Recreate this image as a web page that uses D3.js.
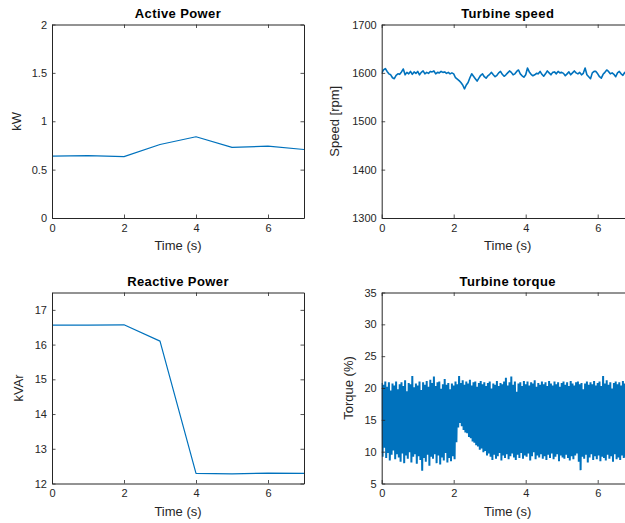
<!DOCTYPE html>
<html>
<head>
<meta charset="utf-8">
<script src="https://cdn.jsdelivr.net/npm/d3@7"></script>
<style>
  html, body { margin: 0; padding: 0; background: #fff; }
  svg { display: block; font-family: "Liberation Sans", Arial, Helvetica, sans-serif; }
  .tick text { fill: #262626; font-size: 11px; }
  .domain, .tick line { stroke: #262626; }
</style>
</head>
<body>
<svg id="fig" width="625" height="523"></svg>
<script>
// ---- data -------------------------------------------------------------
const timeTicks = [0, 2, 4, 6];

// Active power, one sample per second
const activeTime  = [0, 1, 2, 3, 4, 5, 6, 7];
const activePower = [0.640, 0.645, 0.634, 0.760, 0.840, 0.730, 0.742, 0.708];
const activeTicks = [0, 0.5, 1, 1.5, 2];

// Reactive power, one sample per second
const reactiveTime  = [0, 1, 2, 3, 4, 5, 6, 7];
const reactivePower = [16.56, 16.56, 16.57, 16.10, 12.29, 12.28, 12.30, 12.29];
const reactiveTicks = [12, 13, 14, 15, 16, 17];

// Turbine speed, sampled every 0.05 s
const speedStep = 0.05;
const turbineSpeed = [
  1600, 1606, 1609, 1603, 1598, 1596, 1590, 1588, 1595, 1598,
  1597, 1602, 1608, 1596, 1601, 1598, 1603, 1597, 1602, 1599,
  1603, 1596, 1601, 1604, 1598, 1601, 1599, 1603, 1602, 1604,
  1598, 1601, 1600, 1603, 1601, 1602, 1599, 1601, 1598, 1600,
  1598, 1590, 1587, 1584, 1580, 1575, 1567, 1575, 1580, 1590,
  1598, 1593, 1588, 1583, 1589, 1595, 1598, 1592, 1589, 1594,
  1597, 1601, 1596, 1592, 1595, 1600, 1603, 1597, 1593, 1596,
  1600, 1604, 1601, 1596, 1598, 1603, 1606, 1598, 1594, 1591,
  1596, 1610, 1602, 1597, 1594, 1596, 1599, 1598, 1603, 1597,
  1593, 1598, 1604, 1600, 1596, 1601, 1602, 1598, 1603, 1600,
  1601, 1599, 1594, 1598, 1602, 1596, 1600, 1604, 1600, 1598,
  1601, 1596, 1599, 1610, 1596, 1592, 1588, 1600, 1603, 1603,
  1598, 1592, 1589, 1597, 1601, 1606, 1603, 1598, 1600, 1597,
  1592, 1600, 1603, 1598, 1595, 1601, 1597, 1594, 1599, 1596,
  1595
];
const speedTicks = [1300, 1400, 1500, 1600, 1700];

// Turbine torque: the signal alternates between a peak and a trough
// every 0.025 s; peaks and troughs are listed per 0.05 s period.
const torqueStep = 0.05;
const torquePeaks = [
  20.8, 20.5, 21.0, 20.2, 20.9, 19.6, 20.7, 20.4, 21.0, 19.8,
  20.6, 20.9, 20.3, 21.2, 19.5, 20.8, 20.6, 21.9, 20.1, 20.7,
  20.4, 21.0, 19.7, 20.9, 20.5, 21.1, 20.2, 21.3, 20.8, 21.8,
  20.3, 20.9, 21.0, 19.9, 20.6, 21.4, 20.5, 20.8, 19.8, 20.7,
  20.4, 21.0, 20.6, 21.9, 20.8, 21.2, 20.5, 21.0, 20.7, 21.3,
  20.4, 20.9, 21.0, 20.2, 20.8, 21.1, 20.6, 20.9, 20.3, 20.8,
  21.0, 19.9, 20.7, 20.5, 21.1, 20.3, 20.8, 20.6, 21.0, 21.6,
  20.4, 20.9, 21.8, 20.5, 21.0, 19.4, 20.7, 20.9, 20.3, 21.1,
  20.6, 21.0, 20.4, 20.9, 20.7, 21.2, 20.2, 20.8, 20.5, 21.0,
  20.6, 20.9, 20.3, 21.1, 20.7, 20.4, 21.0, 20.6, 20.9, 20.2,
  20.8, 21.0, 20.5, 20.9, 20.3, 21.1, 20.7, 20.4, 20.9, 21.0,
  20.6, 20.8, 19.8, 20.7, 21.0, 20.5, 20.9, 20.6, 21.1, 20.4,
  20.8, 21.0, 20.3, 21.9, 20.7, 21.2, 20.5, 20.9, 19.9, 20.8,
  21.0, 20.6, 20.9, 20.4, 21.1, 20.7, 20.5, 20.9, 20.6, 20.8,
  20.5
];
const torqueTroughs = [
   9.2, 10.6,  9.0,  9.8,  8.6,  9.5, 10.2,  8.8,  9.6,  9.1,
   8.4,  9.7,  8.2,  9.4,  8.9,  9.9,  8.3,  9.2,  9.6,  8.1,
   9.3,  8.7,  7.0,  9.0,  8.4,  9.5,  7.8,  9.2,  8.9,  9.6,
   8.2,  9.4,  8.0,  9.1,  8.6,  9.8,  8.3,  9.0,  8.5,  9.3,
   8.8, 11.5, 13.8, 14.5, 14.0, 13.4, 13.0, 12.9, 12.3, 12.1,
  11.6, 11.4, 11.0, 10.8, 10.3, 10.5,  9.9, 10.1,  9.4,  9.7,
   9.2,  8.7,  9.5,  8.9,  9.3,  9.8,  8.6,  9.4,  9.0,  9.6,
   8.8,  9.3,  9.7,  9.1,  8.7,  9.5,  9.0,  9.8,  8.9,  9.4,
   9.2,  9.7,  8.6,  9.3,  9.9,  8.8,  9.4,  9.1,  9.6,  8.9,
   9.3,  8.7,  9.5,  9.0,  9.7,  8.8,  9.2,  9.6,  8.5,  9.4,
   9.1,  8.9,  9.5,  9.0,  8.6,  9.3,  8.8,  9.4,  9.7,  8.4,
   7.1,  9.2,  8.9,  9.5,  8.3,  9.1,  9.6,  8.7,  9.3,  8.8,
   9.4,  8.5,  9.2,  9.0,  8.6,  9.5,  8.9,  9.3,  8.4,  9.6,
   8.8,  9.1,  8.7,  9.4,  9.0,  9.2,  8.9,  9.5,  9.0,  9.3,
   9.1
];
const torqueTicks = [5, 10, 15, 20, 25, 30, 35];

// ---- series assembly ----------------------------------------------------
const activeSeries   = activeTime.map((t, i) => [t, activePower[i]]);
const reactiveSeries = reactiveTime.map((t, i) => [t, reactivePower[i]]);
const speedSeries    = turbineSpeed.map((v, i) => [i * speedStep, v]);
const torqueSeries   = [];
torquePeaks.forEach((p, i) => {
  torqueSeries.push([i * torqueStep, p]);
  torqueSeries.push([i * torqueStep + torqueStep / 2, torqueTroughs[i]]);
});

// ---- drawing ------------------------------------------------------------
const svg = d3.select("#fig");
const LINE = "#0072BD";
const INK = "#262626";

function panel(opts) {
  const { left, right, top, bottom } = opts.box;
  const x = d3.scaleLinear().domain([0, 7]).range([left, right]);
  const y = d3.scaleLinear().domain(opts.yDomain).range([bottom, top]);
  const g = svg.append("g");
  const id = "clip" + opts.key;

  g.append("clipPath").attr("id", id)
    .append("rect").attr("x", left).attr("y", top)
    .attr("width", right - left).attr("height", bottom - top);

  // data line
  g.append("path")
    .datum(opts.series)
    .attr("clip-path", `url(#${id})`)
    .attr("fill", "none")
    .attr("stroke", LINE)
    .attr("stroke-width", opts.lineWidth)
    .attr("stroke-linejoin", opts.join || "round")
    .attr("d", d3.line().x(d => x(d[0])).y(d => y(d[1])));

  const tickLen = 3.5;
  // bottom axis with labels
  g.append("g").attr("transform", `translate(0,${bottom})`)
    .call(d3.axisBottom(x).tickValues(timeTicks).tickFormat(d3.format("d"))
      .tickSizeInner(-tickLen).tickSizeOuter(0).tickPadding(6));
  // left axis with labels
  g.append("g").attr("transform", `translate(${left},0)`)
    .call(d3.axisLeft(y).tickValues(opts.yTicks).tickFormat(opts.yFormat)
      .tickSizeInner(-tickLen).tickSizeOuter(0).tickPadding(5));
  // mirrored top and right axes (box), ticks only
  g.append("g").attr("transform", `translate(0,${top})`)
    .call(d3.axisTop(x).tickValues(timeTicks).tickFormat("")
      .tickSizeInner(-tickLen).tickSizeOuter(0));
  g.append("g").attr("transform", `translate(${right},0)`)
    .call(d3.axisRight(y).tickValues(opts.yTicks).tickFormat("")
      .tickSizeInner(-tickLen).tickSizeOuter(0));

  g.selectAll(".domain").attr("stroke", INK).attr("stroke-width", 1);
  g.selectAll(".tick line").attr("stroke", INK).attr("stroke-width", 0.8);
  g.selectAll(".tick text").attr("fill", "#333").style("font-size", "11px");

  // title
  g.append("text")
    .attr("x", (left + right) / 2).attr("y", top - 6.5)
    .attr("text-anchor", "middle")
    .attr("fill", "#000")
    .style("font-size", "13px").style("font-weight", "bold")
    .style("letter-spacing", "0.4px")
    .text(opts.title);

  // x label
  g.append("text")
    .attr("x", (left + right) / 2).attr("y", bottom + 32)
    .attr("text-anchor", "middle")
    .attr("fill", INK)
    .style("font-size", "13px")
    .text("Time (s)");

  // y label
  g.append("text")
    .attr("transform", `translate(${opts.yLabelX},${(top + bottom) / 2}) rotate(-90)`)
    .attr("text-anchor", "middle")
    .attr("dy", "0.35em")
    .attr("fill", INK)
    .style("font-size", "13px")
    .text(opts.yLabel);
}

const topBox = { top: 24.5, bottom: 218 };
const botBox = { top: 292.5, bottom: 483.5 };
const leftCol = { left: 52, right: 304 };
const rightCol = { left: 381.7, right: 633.7 };

panel({
  key: "ap", title: "Active Power", yLabel: "kW", yLabelX: 16,
  box: { ...leftCol, ...topBox }, yDomain: [0, 2], yTicks: activeTicks,
  yFormat: d => String(d), series: activeSeries, lineWidth: 1.2
});
panel({
  key: "ts", title: "Turbine speed", yLabel: "Speed [rpm]", yLabelX: 334,
  box: { ...rightCol, ...topBox }, yDomain: [1300, 1700], yTicks: speedTicks,
  yFormat: d3.format("d"), series: speedSeries, lineWidth: 1.6
});
panel({
  key: "rp", title: "Reactive Power", yLabel: "kVAr", yLabelX: 18,
  box: { ...leftCol, ...botBox }, yDomain: [12, 17.5], yTicks: reactiveTicks,
  yFormat: d3.format("d"), series: reactiveSeries, lineWidth: 1.2
});
panel({
  key: "tt", title: "Turbine torque", yLabel: "Torque (%)", yLabelX: 348,
  box: { ...rightCol, ...botBox }, yDomain: [5, 35], yTicks: torqueTicks,
  yFormat: d3.format("d"), series: torqueSeries, lineWidth: 2, join: "bevel"
});
</script>
</body>
</html>
